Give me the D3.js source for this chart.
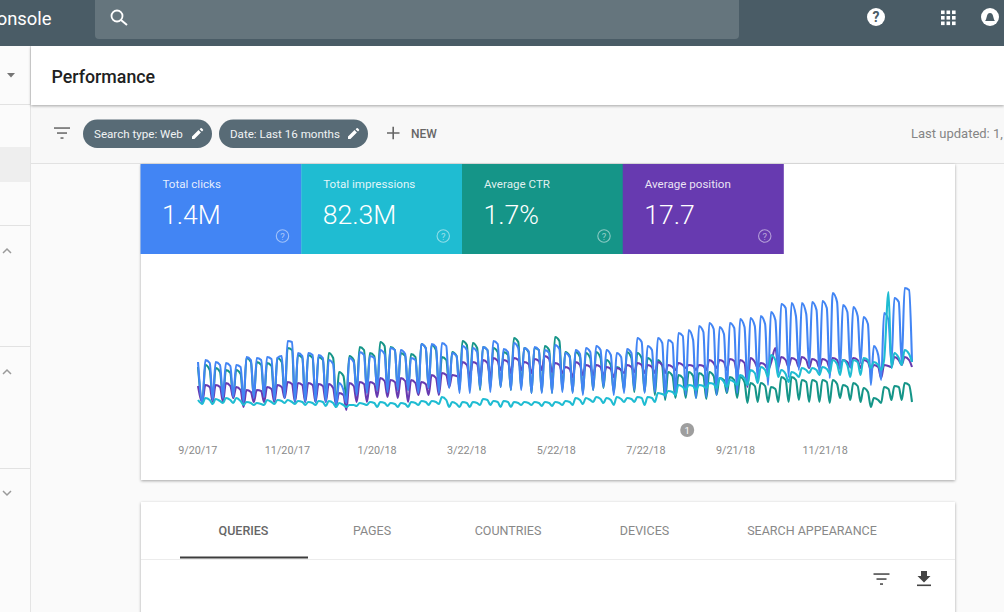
<!DOCTYPE html>
<html>
<head>
<meta charset="utf-8">
<script src="https://cdnjs.cloudflare.com/ajax/libs/d3/7.8.5/d3.min.js"></script>
<style>
  html, body { margin: 0; padding: 0; background: #fafafa; overflow: hidden; }
  svg { display: block; font-family: Roboto, sans-serif; }
</style>
</head>
<body>
<svg id="page" width="1004" height="612"></svg>
<script>
// summary cards
var cardTitles = ['Total clicks', 'Total impressions', 'Average CTR', 'Average position'];
var cardValues = ['1.4M', '82.3M', '1.7%', '17.7'];
var cardColors = ['#4285f4', '#1fbcd2', '#159588', '#673ab0'];

var tickDates = ['2017-09-20', '2017-11-20', '2018-01-20', '2018-03-22', '2018-05-22', '2018-07-22', '2018-09-21', '2018-11-21'];
var noteDate = '2018-08-19';
var tabs = ['QUERIES', 'PAGES', 'COUNTRIES', 'DEVICES', 'SEARCH APPEARANCE'];

// relative height of each metric, first two are the start day and the first Sat,
// after that Mon, Thu, Sat for every week
var clicks = [58, 17,
  60,57,20, 58,55,22, 57,54,23, 55,53,18, 63,60,22,
  62,60,23, 63,61,20, 62,64,22, 79,78,18, 67,64,18,
  67,65,18, 65,62,18, 60,56,15, 37,30,17, 62,58,25,
  68,65,27, 64,62,30, 70,66,28, 72,70,30, 70,66,30,
  62,60,27, 76,72,32, 76,73,27, 77,74,32, 67,64,27,
  74,70,27, 72,68,32, 73,70,28, 79,76,33, 71,68,30,
  77,72,30, 72,69,27, 73,70,27, 70,67,27, 75,71,28,
  67,63,27, 70,66,25, 72,68,30, 74,70,33, 70,65,25,
  67,63,27, 71,67,30, 82,78,27, 74,70,28, 82,77,23,
  80,77,25, 87,84,25, 90,80,22, 94,88,23, 97,91,25,
  93,86,28, 97,92,27, 101,93,35, 102,94,40, 104,96,35,
  108,100,47, 116,112,43, 117,104,50, 117,106,53, 118,110,45,
  119,112,42, 127,118,50, 115,108,52, 113,104,57, 103,96,35,
  74,65,40, 107,100,57, 122,118,57, 132,130,58];

var impressions = [20, 16,
  22,20,16, 21,19,17, 22,20,17, 22,19,15, 18,17,15,
  17,16,15, 20,18,16, 20,19,17, 20,18,16, 19,18,15,
  18,17,15, 19,18,14, 19,17,13, 17,15,13, 15,15,14,
  17,16,15, 18,17,13, 18,17,14, 17,16,13, 17,16,13,
  18,17,15, 19,18,15, 19,18,16, 23,20,13, 18,16,13,
  18,17,13, 18,17,15, 21,20,15, 19,18,13, 19,18,13,
  18,17,15, 18,17,15, 18,17,14, 18,17,14, 18,17,15,
  19,18,15, 22,20,16, 22,20,18, 23,21,17, 22,20,15,
  23,21,18, 22,21,18, 23,22,15, 23,22,18, 27,26,25,
  29,28,25, 35,33,30, 35,34,30, 35,34,32, 37,36,32,
  42,38,33, 40,38,35, 45,42,35, 50,47,37, 53,50,43,
  65,60,43, 50,46,38, 48,46,43, 52,50,47, 52,50,45,
  53,51,47, 60,56,45, 60,55,43, 60,58,45, 62,60,52,
  58,55,50, 60,128,52, 67,62,55, 70,66,58];

var ctr = [53, 18,
  55,50,20, 52,48,22, 50,47,22, 50,46,18, 62,58,22,
  58,55,23, 57,54,20, 62,58,22, 72,70,18, 65,62,18,
  65,62,18, 63,60,20, 67,62,15, 48,44,22, 64,60,27,
  73,70,28, 67,64,30, 78,74,28, 73,70,30, 67,64,30,
  66,63,27, 76,72,32, 75,70,30, 63,60,33, 68,64,30,
  79,75,32, 77,72,30, 73,70,32, 72,68,33, 68,65,30,
  82,78,32, 72,68,27, 72,70,28, 74,70,27, 83,79,30,
  68,64,28, 68,63,27, 67,62,30, 68,62,32, 60,55,28,
  53,50,30, 68,62,28, 67,62,28, 62,58,25, 60,54,20,
  48,44,22, 45,42,22, 48,44,22, 47,44,21, 48,44,25,
  42,40,27, 43,40,22, 43,38,17, 37,34,18, 37,34,18,
  33,31,18, 43,40,18, 43,40,20, 40,38,18, 40,38,18,
  40,38,17, 40,36,22, 35,33,20, 37,34,18, 32,28,13,
  22,20,17, 33,31,20, 34,33,20, 37,35,18];

var position = [34, 18,
  35,33,18, 35,33,18, 37,34,22, 33,30,13, 30,28,18,
  30,29,18, 33,31,18, 35,33,22, 38,36,18, 37,35,18,
  37,35,18, 36,34,18, 36,32,15, 27,25,10, 37,34,18,
  38,36,18, 38,36,23, 42,39,23, 40,38,22, 42,39,18,
  40,37,25, 38,36,25, 45,42,25, 47,45,33, 45,44,43,
  58,55,43, 58,56,42, 60,57,43, 62,59,50, 60,58,47,
  62,60,50, 58,56,47, 61,59,50, 64,61,48, 57,55,47,
  53,51,43, 58,55,45, 55,53,45, 55,53,45, 53,51,43,
  52,50,47, 55,53,48, 57,55,47, 55,53,47, 58,55,47,
  55,53,50, 57,55,52, 55,54,50, 55,54,50, 60,57,52,
  60,58,50, 61,59,47, 60,57,33, 62,58,52, 57,55,50,
  57,72,53, 63,60,53, 62,60,53, 63,60,52, 61,59,52,
  61,59,52, 62,60,52, 60,58,53, 62,60,52, 60,58,50,
  55,53,42, 55,54,53, 63,60,55, 63,60,53];

var seriesList = [
  { values: ctr, color: '#159588' },
  { values: position, color: '#673ab0' },
  { values: clicks, color: '#4285f4' },
  { values: impressions, color: '#1fbcd2' }
];

var parseDay = d3.timeParse('%Y-%m-%d');
var formatDay = function(d) {
  return (d.getMonth() + 1) + '/' + d.getDate() + '/' + d3.timeFormat('%y')(d);
};

// the sampled days: the start day, then every Sat, Mon and Thu up to the last Sat
var sampleDays = [parseDay('2017-09-20')].concat(
  d3.timeDay.range(parseDay('2017-09-23'), parseDay('2019-01-20'))
    .filter(function(d) { return [1, 4, 6].indexOf(d.getDay()) >= 0; }));

var svg = d3.select('#page');

// ---- page background pieces
svg.append('rect').attr('x', 0).attr('y', 0).attr('width', 1004).attr('height', 612).attr('fill', '#fafafa');
svg.append('rect').attr('x', 0).attr('y', 46).attr('width', 30).attr('height', 566).attr('fill', '#fbfbfb');
svg.append('rect').attr('x', 0).attr('y', 147).attr('width', 30).attr('height', 35).attr('fill', '#eeeeee');
svg.append('rect').attr('x', 30).attr('y', 46).attr('width', 1).attr('height', 566).attr('fill', '#e4e4e4');
[104, 225, 346, 468].forEach(function(y) {
  svg.append('rect').attr('x', 0).attr('y', y).attr('width', 30).attr('height', 1).attr('fill', '#e2e2e2');
});

var defs = svg.append('defs');
var shadow = defs.append('filter').attr('id', 'shadow').attr('x', '-5%').attr('y', '-20%').attr('width', '110%').attr('height', '140%');
shadow.append('feDropShadow').attr('dx', 0).attr('dy', 1).attr('stdDeviation', 1.5).attr('flood-color', '#000').attr('flood-opacity', 0.35);

// filter bar
svg.append('rect').attr('x', 31).attr('y', 106).attr('width', 973).attr('height', 57).attr('fill', '#f8f8f8');
svg.append('rect').attr('x', 31).attr('y', 163).attr('width', 973).attr('height', 1).attr('fill', '#e2e2e2');

// header
svg.append('rect').attr('x', 31).attr('y', 46).attr('width', 973).attr('height', 59).attr('fill', '#fff').attr('filter', 'url(#shadow)');
svg.append('text').attr('x', 51.5).attr('y', 83).attr('font-size', 17.8).attr('font-weight', 500).attr('fill', '#212121').text('Performance');

// top bar
svg.append('rect').attr('width', 1004).attr('height', 46).attr('fill', '#4a5c66');
svg.append('path').attr('d', 'M95,0H739V35a4,4 0 0 1 -4,4H99a4,4 0 0 1 -4,-4Z').attr('fill', '#65757d');
svg.append('text').attr('x', 51.5).attr('y', 25).attr('text-anchor', 'end').attr('font-size', 18.4).attr('fill', '#fff').text('onsole');
svg.append('circle').attr('cx', 117).attr('cy', 16).attr('r', 5.5).attr('fill', 'none').attr('stroke', '#fff').attr('stroke-width', 1.8);
svg.append('line').attr('x1', 121).attr('y1', 20).attr('x2', 127).attr('y2', 25).attr('stroke', '#fff').attr('stroke-width', 2);
svg.append('circle').attr('cx', 876).attr('cy', 17).attr('r', 9).attr('fill', '#fff');
svg.append('text').attr('x', 876).attr('y', 22).attr('text-anchor', 'middle').attr('font-size', 14).attr('font-weight', 700).attr('fill', '#4a5c66').text('?');
d3.range(3).forEach(function(i) {
  d3.range(3).forEach(function(j) {
    svg.append('rect').attr('x', 941 + i * 5.5).attr('y', 10.5 + j * 5.5).attr('width', 3.6).attr('height', 3.6).attr('fill', '#fff');
  });
});
svg.append('circle').attr('cx', 990).attr('cy', 17).attr('r', 9).attr('fill', '#fff');
svg.append('path').attr('d', 'M985,21c2,-1 1,-8 5,-8s3,7 5,8Z').attr('fill', '#4a5c66');

// side arrows
svg.append('path').attr('d', 'M7,73h8l-4,4.5Z').attr('fill', '#757575');
function chevron(y, up) {
  var d = up ? 'M3,' + (y + 3) + 'L7,' + (y - 1) + 'L11,' + (y + 3) : 'M3,' + (y - 2) + 'L7,' + (y + 2) + 'L11,' + (y - 2);
  svg.append('path').attr('d', d).attr('fill', 'none').attr('stroke', '#9a9a9a').attr('stroke-width', 1.5);
}
chevron(250, true);
chevron(371, true);
chevron(493, false);

// filter icon helper
function filterIcon(cx, cy, color) {
  [[-8, 8, -5], [-5, 5, 0], [-1.5, 1.5, 5]].forEach(function(b) {
    svg.append('rect').attr('x', cx + b[0]).attr('y', cy + b[2] - 0.7).attr('width', b[1] - b[0]).attr('height', 1.5).attr('fill', color);
  });
}
function pencil(cx, cy) {
  svg.append('path').attr('d', 'M' + (cx - 5) + ',' + (cy + 5) + 'v-2.4l6.5,-6.5l2.4,2.4l-6.5,6.5Zm7.6,-9.8l1,-1q0.6,-0.5 1.2,0l1.2,1.2q0.5,0.6 0,1.2l-1,1Z').attr('fill', '#fff');
}
filterIcon(62, 133, '#666');

// chips
var chipLabels = ['Search type: Web', 'Date: Last 16 months'];
var chipLeft = [83, 219];
var chipWidth = [129, 149];
chipLabels.forEach(function(t, i) {
  svg.append('rect').attr('x', chipLeft[i]).attr('y', 119.5).attr('width', chipWidth[i]).attr('height', 28.5).attr('rx', 14.2).attr('fill', '#586b76');
  svg.append('text').attr('x', chipLeft[i] + 11).attr('y', 137.5).attr('font-size', 11.6).attr('fill', '#f1f3f4').text(t);
  pencil(chipLeft[i] + chipWidth[i] - 15, 134);
});
svg.append('path').attr('d', 'M387,133h12.5M393.2,126.8v12.5').attr('stroke', '#666').attr('stroke-width', 1.6);
svg.append('text').attr('x', 411).attr('y', 138).attr('font-size', 12).attr('font-weight', 500).attr('fill', '#666').text('NEW');
svg.append('text').attr('x', 911).attr('y', 138).attr('font-size', 13).attr('fill', '#858585').text('Last updated: 1,');

// ---- main chart card
svg.append('rect').attr('x', 141).attr('y', 164).attr('width', 814).attr('height', 316).attr('fill', '#fff').attr('filter', 'url(#shadow)');

var cardX = d3.scaleBand().domain(d3.range(cardTitles.length)).range([140.5, 783.5]);
var cards = svg.selectAll('g.card').data(cardTitles).enter().append('g').attr('class', 'card')
  .attr('transform', function(d, i) { return 'translate(' + cardX(i) + ',164)'; });
cards.append('rect').attr('width', cardX.bandwidth() + 0.3).attr('height', 90).attr('fill', function(d, i) { return cardColors[i]; });
cards.append('text').attr('x', 22).attr('y', 24).attr('font-size', 11.6).attr('fill', '#fff').attr('fill-opacity', 0.88).text(function(d) { return d; });
cards.append('text').attr('x', 21.5).attr('y', 60).attr('font-size', 26.6).attr('font-weight', 300).attr('fill', '#fff').text(function(d, i) { return cardValues[i]; });
cards.append('circle').attr('cx', 142).attr('cy', 72).attr('r', 6.2).attr('fill', 'none').attr('stroke', '#fff').attr('stroke-opacity', 0.5).attr('stroke-width', 1.1);
cards.append('text').attr('x', 142).attr('y', 75.5).attr('text-anchor', 'middle').attr('font-size', 9.5).attr('fill', '#fff').attr('fill-opacity', 0.55).text('?');

// scales
var x = d3.scaleTime().domain([parseDay('2017-09-20'), parseDay('2019-01-19')]).range([198, 912]);
var y = d3.scaleLinear().domain([0, 140]).range([420, 280]);

var line = d3.line()
  .x(function(d, i) { return x(sampleDays[i]); })
  .y(function(d) { return y(d); })
  .curve(d3.curveMonotoneX);

svg.selectAll('path.series').data(seriesList).enter().append('path').attr('class', 'series')
  .attr('d', function(s) { return line(s.values); })
  .attr('fill', 'none')
  .attr('stroke', function(s) { return s.color; })
  .attr('stroke-width', 2.1)
  .attr('stroke-linejoin', 'round');

var xAxis = d3.axisBottom(x).tickValues(tickDates.map(parseDay)).tickFormat(formatDay).tickSize(0).tickPadding(0);
var axisG = svg.append('g').attr('transform', 'translate(-0.7,446)').call(xAxis);
axisG.select('.domain').remove();
axisG.selectAll('text').attr('font-family', 'Roboto, sans-serif').attr('font-size', 10.8).attr('fill', '#8a8a8a');

// annotation marker
svg.append('circle').attr('cx', x(parseDay(noteDate))).attr('cy', 430).attr('r', 7).attr('fill', '#9e9e9e');
svg.append('text').attr('x', x(parseDay(noteDate))).attr('y', 433.5).attr('text-anchor', 'middle').attr('font-size', 9.5).attr('fill', '#fff').text('1');

// ---- table card
svg.append('rect').attr('x', 141).attr('y', 502).attr('width', 814).attr('height', 120).attr('fill', '#fff').attr('filter', 'url(#shadow)');
svg.append('rect').attr('x', 141).attr('y', 559).attr('width', 814).attr('height', 1).attr('fill', '#ececec');
svg.append('rect').attr('x', 180).attr('y', 556.5).attr('width', 128).attr('height', 2).attr('fill', '#3c3c3c');

var tabCenter = [243.5, 372, 508, 644.5, 812];
svg.selectAll('text.tab').data(tabs).enter().append('text').attr('class', 'tab')
  .attr('x', function(d, i) { return tabCenter[i]; })
  .attr('y', 534.5)
  .attr('text-anchor', 'middle')
  .attr('font-size', 12.5)
  .attr('font-weight', function(d, i) { return i === 0 ? 500 : 400; })
  .attr('fill', function(d, i) { return i === 0 ? '#666' : '#888'; })
  .text(function(d) { return d; });

filterIcon(881.5, 579, '#444');
svg.append('path').attr('d', 'M921,571h6v5h3.5l-6.5,6.5l-6.5,-6.5h3.5Z').attr('fill', '#444');
svg.append('rect').attr('x', 917).attr('y', 584.5).attr('width', 14).attr('height', 1.6).attr('fill', '#444');
</script>
</body>
</html>
